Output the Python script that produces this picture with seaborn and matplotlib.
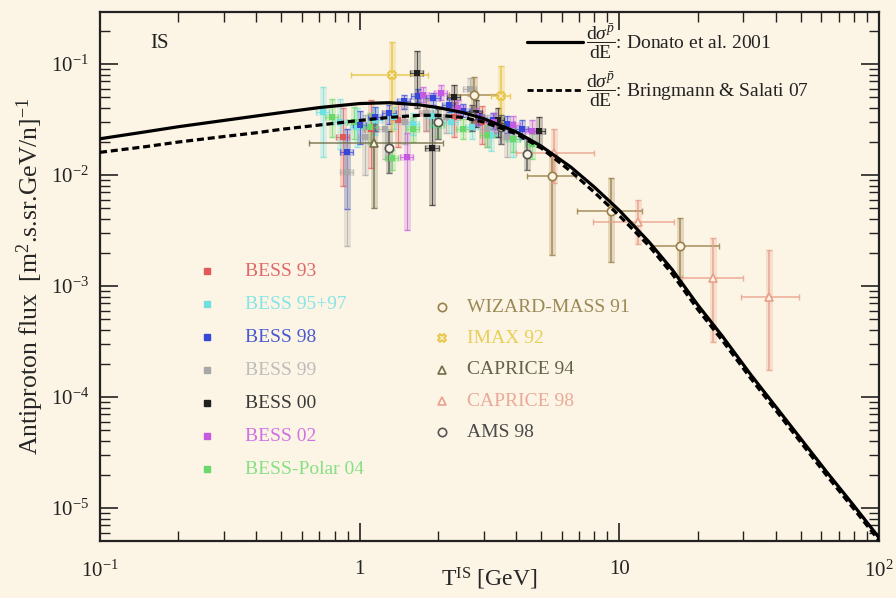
import matplotlib
matplotlib.use("Agg")
import numpy as np
import pandas as pd
import matplotlib.pyplot as plt
import seaborn as sns

# ---- model curves ----
T_curve = [0.1, 0.15, 0.2, 0.3, 0.4, 0.5, 0.7, 1.0, 1.3, 1.7, 2.0, 2.5, 3.0, 4.0,
           5.0, 6.5, 8.0, 10, 13, 16, 20, 25, 32, 40, 50, 63, 80, 100]
donato = [0.0212, 0.0245, 0.0272, 0.0310, 0.0340, 0.0365, 0.0405, 0.0440, 0.0448,
          0.0428, 0.0405, 0.0365, 0.0322, 0.0245, 0.0182, 0.0118, 0.0078, 0.0048,
          0.0025, 0.00140, 6.8e-4, 3.5e-4, 1.6e-4, 8.2e-5, 4.2e-5, 2.1e-5, 1.05e-5, 5.4e-6]
bringmann = [0.0160, 0.0180, 0.0198, 0.0222, 0.0240, 0.0258, 0.0282, 0.0310, 0.0330,
             0.0345, 0.0345, 0.0330, 0.0300, 0.0235, 0.0175, 0.0108, 0.0070, 0.0043,
             0.0023, 0.00128, 6.2e-4, 3.2e-4, 1.48e-4, 7.6e-5, 3.9e-5, 1.95e-5, 9.8e-6, 5.1e-6]

# ---- measurements: T, flux, flux low, flux high ----
b93_T = [0.86, 1.11, 1.40, 1.80, 2.30, 2.95]
b93_F = [0.022, 0.026, 0.031, 0.036, 0.033, 0.030]
b93_lo = [0.008, 0.0115, 0.018, 0.025, 0.022, 0.019]
b93_hi = [0.040, 0.047, 0.045, 0.048, 0.045, 0.042]

b95_T = [0.72, 0.84, 0.98, 1.15, 1.35, 1.60, 1.90, 2.25, 2.70, 3.20, 3.90]
b95_F = [0.037, 0.030, 0.027, 0.031, 0.033, 0.029, 0.034, 0.030, 0.027, 0.023, 0.021]
b95_lo = [0.0145, 0.017, 0.018, 0.023, 0.026, 0.023, 0.027, 0.024, 0.021, 0.0165, 0.0145]
b95_hi = [0.062, 0.048, 0.040, 0.040, 0.041, 0.036, 0.041, 0.037, 0.034, 0.030, 0.028]

b98_T = [0.89, 1.00, 1.15, 1.30, 1.48, 1.68, 1.92, 2.20, 2.50, 2.85, 3.25, 3.70, 4.20]
b98_F = [0.016, 0.028, 0.033, 0.036, 0.046, 0.052, 0.049, 0.043, 0.038, 0.033, 0.031, 0.029, 0.026]
b98_lo = [0.0049, 0.019, 0.025, 0.029, 0.039, 0.045, 0.043, 0.037, 0.033, 0.028, 0.026, 0.024, 0.021]
b98_hi = [0.026, 0.038, 0.041, 0.043, 0.053, 0.059, 0.055, 0.049, 0.044, 0.038, 0.036, 0.034, 0.031]

b99_T = [0.89, 1.05, 1.25, 1.50, 1.80, 2.15, 2.65, 3.10, 3.70]
b99_F = [0.0107, 0.022, 0.026, 0.030, 0.036, 0.033, 0.060, 0.026, 0.022]
b99_lo = [0.0023, 0.010, 0.014, 0.019, 0.025, 0.024, 0.052, 0.018, 0.0145]
b99_hi = [0.020, 0.035, 0.038, 0.041, 0.048, 0.044, 0.075, 0.035, 0.030]

b00_T = [1.66, 1.90, 2.30, 2.80, 3.40, 4.90]
b00_F = [0.083, 0.0175, 0.050, 0.036, 0.031, 0.025]
b00_lo = [0.040, 0.0054, 0.038, 0.027, 0.022, 0.018]
b00_hi = [0.130, 0.034, 0.065, 0.047, 0.040, 0.033]

b02_T = [1.52, 1.75, 2.05, 2.40, 2.80, 3.30, 3.90, 4.60]
b02_F = [0.0146, 0.053, 0.055, 0.040, 0.034, 0.030, 0.028, 0.025]
b02_lo = [0.0032, 0.045, 0.047, 0.033, 0.028, 0.024, 0.022, 0.019]
b02_hi = [0.024, 0.062, 0.064, 0.047, 0.040, 0.036, 0.034, 0.031]

bp04_T = [0.78, 0.95, 1.10, 1.33, 1.60, 2.00, 2.50, 3.10, 3.90, 4.60]
bp04_F = [0.033, 0.030, 0.027, 0.0142, 0.026, 0.028, 0.026, 0.023, 0.021, 0.019]
bp04_lo = [0.022, 0.021, 0.019, 0.011, 0.020, 0.022, 0.021, 0.018, 0.016, 0.014]
bp04_hi = [0.048, 0.041, 0.036, 0.0168, 0.033, 0.034, 0.032, 0.028, 0.026, 0.024]

wiz_T = [2.75, 5.5, 9.3, 17.1]
wiz_F = [0.053, 0.0098, 0.0047, 0.0023]
wiz_lo = [0.030, 0.0019, 0.00165, 0.0012]
wiz_hi = [0.076, 0.0158, 0.0094, 0.0041]
wiz_Tlo = [2.2, 4.4, 6.9, 13.2]
wiz_Thi = [3.45, 6.8, 12.2, 24.3]

imax_T = [1.33, 3.5]
imax_F = [0.079, 0.052]
imax_lo = [0.025, 0.030]
imax_hi = [0.158, 0.096]
imax_Tlo = [0.93, 3.2]
imax_Thi = [1.83, 3.8]

c94_T = [1.14]
c94_F = [0.0194]
c94_lo = [0.0050]
c94_hi = [0.029]
c94_Tlo = [0.64]
c94_Thi = [2.1]

c98_T = [5.6, 11.8, 22.9, 37.6]
c98_F = [0.0158, 0.0038, 0.00118, 7.9e-4]
c98_lo = [0.0085, 0.0024, 3.1e-4, 1.75e-4]
c98_hi = [0.026, 0.0059, 0.0027, 0.0021]
c98_Tlo = [4.0, 7.9, 17.4, 29.4]
c98_Thi = [8.0, 16.2, 30.0, 49.0]

ams_T = [1.3, 2.0, 2.7, 3.5, 4.4]
ams_F = [0.0175, 0.030, 0.034, 0.027, 0.0155]
ams_lo = [0.0105, 0.021, 0.025, 0.019, 0.011]
ams_hi = [0.025, 0.039, 0.043, 0.035, 0.0215]

x_ticks = [0.1, 1, 10, 100]
x_ticklabels = [r"$10^{-1}$", "1", "10", r"$10^{2}$"]
y_ticks = [1e-5, 1e-4, 1e-3, 1e-2, 1e-1]
y_ticklabels = [r"$10^{-5}$", r"$10^{-4}$", r"$10^{-3}$", r"$10^{-2}$", r"$10^{-1}$"]

# ---- style ----
bg = "#fcf4e4"
sns.set_theme(style="ticks")
plt.rcParams["font.family"] = ["Liberation Serif", "DejaVu Serif"]
plt.rcParams["mathtext.fontset"] = "custom"
plt.rcParams["mathtext.rm"] = "Liberation Serif"
plt.rcParams["mathtext.it"] = "Liberation Serif:italic"
plt.rcParams["mathtext.bf"] = "Liberation Serif:bold"

fig = plt.figure(figsize=(8.96, 5.98), dpi=100, facecolor=bg)
ax = fig.add_axes([100 / 896, 57 / 598, 779 / 896, 529 / 598])
ax.set_facecolor(bg)
ax.set_xscale("log")
ax.set_yscale("log")

bess = [
    ("BESS 93", "#e05a5a", b93_T, b93_F, b93_lo, b93_hi),
    ("BESS 95+97", "#6fe0e0", b95_T, b95_F, b95_lo, b95_hi),
    ("BESS 98", "#3548d8", b98_T, b98_F, b98_lo, b98_hi),
    ("BESS 99", "#a8a8a8", b99_T, b99_F, b99_lo, b99_hi),
    ("BESS 00", "#202020", b00_T, b00_F, b00_lo, b00_hi),
    ("BESS 02", "#c45ae0", b02_T, b02_F, b02_lo, b02_hi),
    ("BESS-Polar 04", "#6ad86a", bp04_T, bp04_F, bp04_lo, bp04_hi),
]
others = [
    ("WIZARD-MASS 91", "#9a8048", "o", wiz_T, wiz_F, wiz_lo, wiz_hi, wiz_Tlo, wiz_Thi),
    ("IMAX 92", "#e8c340", "X", imax_T, imax_F, imax_lo, imax_hi, imax_Tlo, imax_Thi),
    ("CAPRICE 94", "#6e6e48", "^", c94_T, c94_F, c94_lo, c94_hi, c94_Tlo, c94_Thi),
    ("CAPRICE 98", "#e8a08a", "^", c98_T, c98_F, c98_lo, c98_hi, c98_Tlo, c98_Thi),
    ("AMS 98", "#555555", "o", ams_T, ams_F, ams_lo, ams_hi, None, None),
]
label_colors = {"BESS 93": "#e06a6a", "BESS 95+97": "#86e6e6", "BESS 98": "#4a5ad0",
                "BESS 99": "#bdbdbd", "BESS 00": "#3a3a3a", "BESS 02": "#cf72e6",
                "BESS-Polar 04": "#86e086", "WIZARD-MASS 91": "#9a8a58",
                "IMAX 92": "#e8cf58", "CAPRICE 94": "#62624a", "CAPRICE 98": "#eaaa98",
                "AMS 98": "#4a4a4a"}

for name, col, T, F, lo, hi in bess:
    T, F, lo, hi = map(np.array, (T, F, lo, hi))
    yerr = [F - lo, hi - F]
    ax.errorbar(T, F, yerr=yerr, xerr=0.06 * T, fmt="none", ecolor=col,
                elinewidth=5, alpha=0.25, zorder=2)
    ax.errorbar(T, F, yerr=yerr, xerr=0.06 * T, fmt="none", ecolor=col,
                elinewidth=0.7, alpha=0.7, capsize=2, zorder=3)
    sns.scatterplot(x=T, y=F, color=col, marker="s", s=22, linewidth=0,
                    ax=ax, zorder=4, legend=False)

for name, col, mk, T, F, lo, hi, Tlo, Thi in others:
    T, F, lo, hi = map(np.array, (T, F, lo, hi))
    yerr = [F - lo, hi - F]
    xerr = None if Tlo is None else [T - np.array(Tlo), np.array(Thi) - T]
    ax.errorbar(T, F, yerr=yerr, fmt="none", ecolor=col, elinewidth=5,
                alpha=0.25, zorder=2)
    ax.errorbar(T, F, yerr=yerr, xerr=xerr, fmt="none", ecolor=col,
                elinewidth=1.2, alpha=0.8, capsize=2, zorder=3)
    ax.plot(T, F, linestyle="none", marker=mk, ms=6, mfc=bg, mec=col,
            mew=1.2, zorder=4)

# model curves
curves = pd.DataFrame({
    "T": T_curve + T_curve,
    "flux": donato + bringmann,
    "model": ["Donato"] * len(T_curve) + ["Bringmann"] * len(T_curve),
})
sns.lineplot(data=curves, x="T", y="flux", style="model",
             dashes={"Donato": "", "Bringmann": (2.2, 1.2)},
             color="black", linewidth=2.3, legend=False, ax=ax, zorder=5)

ax.set_xlim(0.1, 100)
ax.set_ylim(5.04e-6, 0.294)
ax.set_xticks(x_ticks)
ax.set_xticklabels(x_ticklabels)
ax.set_yticks(y_ticks)
ax.set_yticklabels(y_ticklabels)
ax.tick_params(which="both", direction="in", top=True, right=True, colors="#222222",
               labelsize=15)
ax.tick_params(which="major", length=13, width=1.2)
ax.tick_params(which="minor", length=7, width=1.0)
ax.tick_params(axis="x", pad=14)
ax.tick_params(axis="y", pad=8)
for sp in ax.spines.values():
    sp.set_color("#222222")
    sp.set_linewidth(1.6)

ax.set_xlabel(r"T$^{\mathrm{IS}}$ [GeV]", fontsize=17, va="center")
ax.xaxis.set_label_coords(0.5, -0.072)
ax.set_ylabel(r"Antiproton flux  [m$^{2}$.s.sr.GeV/n]$^{-1}$", fontsize=18.5, labelpad=3)

ax.text(0.064, 0.941, "IS", transform=ax.transAxes, fontsize=15, va="center",
        color="#222222")

# legend for the curves (top right)
ax.plot([0.548, 0.620], [0.943, 0.943], color="black", lw=2.3, transform=ax.transAxes)
ax.plot([0.548, 0.620], [0.853, 0.853], color="black", lw=2.0, ls=(0, (2.2, 1.2)),
        transform=ax.transAxes)
frac = r"$\dfrac{\mathrm{d}\sigma^{\bar{p}}}{\mathrm{dE}}$"
ax.text(0.624, 0.943, frac + ": Donato et al. 2001", transform=ax.transAxes,
        fontsize=14, va="center", color="#222222")
ax.text(0.624, 0.853, frac + ": Bringmann & Salati 07", transform=ax.transAxes,
        fontsize=14, va="center", color="#222222")

# legend for the experiments
for i, (name, col, *_rest) in enumerate(bess):
    y = 0.510 - i * 0.0624
    ax.plot([0.137], [y], marker="s", ms=5, color=col, transform=ax.transAxes)
    ax.text(0.186, y, name, transform=ax.transAxes, fontsize=14, va="center",
            color=label_colors[name])
for i, (name, col, mk, *_rest) in enumerate(others):
    y = 0.442 - i * 0.0592
    ax.plot([0.439], [y], marker=mk, ms=6, mfc=bg, mec=col, mew=1.2,
            transform=ax.transAxes)
    ax.text(0.471, y, name, transform=ax.transAxes, fontsize=14, va="center",
            color=label_colors[name])

fig.savefig("out.png", dpi=100, facecolor=bg)
